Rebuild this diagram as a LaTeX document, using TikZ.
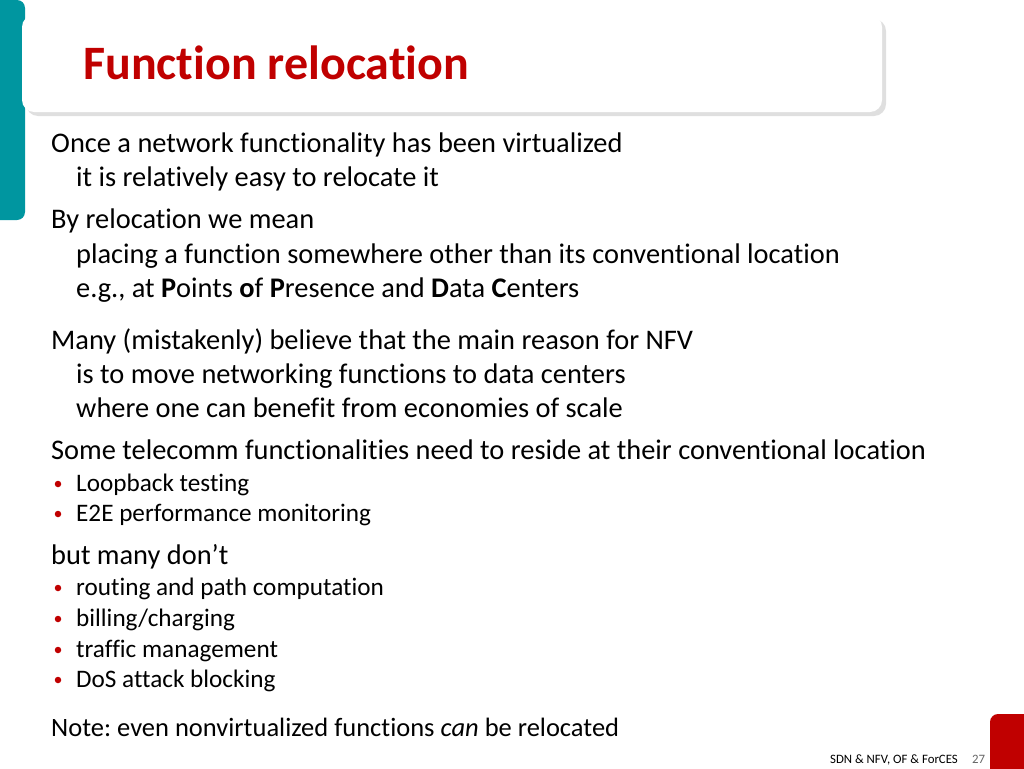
\documentclass[tikz,border=0pt]{standalone}
\usepackage{fontspec}
\setmainfont{Carlito}[Ligatures={NoCommon,TeX}]
\frenchspacing
\usetikzlibrary{shadows}
\definecolor{slidered}{RGB}{192,0,0}
\definecolor{slideteal}{RGB}{0,150,160}
\tikzset{
  body/.style={anchor=base west,inner sep=0pt,font=\fontsize{28.4}{30}\selectfont},
  item/.style={anchor=base west,inner sep=0pt,font=\fontsize{25.2}{27}\selectfont},
  dot/.style={circle,fill=slidered,inner sep=0pt,minimum size=6.5pt}
}
\begin{document}
\begin{tikzpicture}[x=1pt,y=-1pt]
  \useasboundingbox[fill=white] (0,0) rectangle (1024,768);
  % frame
  \fill[slideteal,rounded corners=8pt] (-10,0) rectangle (25,220);
  \fill[white,rounded corners=12pt,drop shadow={opacity=0.25,shadow xshift=4pt,shadow yshift=-4pt}] (22,15) rectangle (882,112);
  \node[anchor=base west,inner sep=0pt,text=slidered,font=\fontsize{48}{50}\bfseries\selectfont] (title) at (83,79) {Function relocation};
  \fill[slidered,rounded corners=8pt] (990,714) rectangle (1034,778);
  % text
  \node[body] (l1) at (51,152) {Once a network functionality has been virtualized};
  \node[body] (l2) at (76,186) {it is relatively easy to relocate it};
  \node[body] (l3) at (51,228) {By relocation we mean};
  \node[body] (l4) at (76,263) {placing a function somewhere other than its conventional location};
  \node[body] (l5) at (76,297) {e.g., at \textbf{P}oints \textbf{o}f \textbf{P}resence and \textbf{D}ata \textbf{C}enters};
  \node[body] (l6) at (51,349) {Many (mistakenly) believe that the main reason for NFV};
  \node[body] (l7) at (76,383) {is to move networking functions to data centers};
  \node[body] (l8) at (76,417) {where one can benefit from economies of scale};
  \node[body] (l9) at (51,459) {Some telecomm functionalities need to reside at their conventional location};
  \foreach \y/\t [count=\i] in {491/{Loopback testing},521/{E2E performance monitoring},595/{routing and path computation},626/{billing/charging},657/{traffic management},687/{DoS attack blocking}}{
    \node[dot] (d\i) at (58,\y-7) {};
    \node[item] (b\i) at (76,\y) {\t};
  }
  \node[body] (l10) at (51,564) {but many don’t};
  \node[body,font=\fontsize{26.5}{28}\selectfont] (l11) at (51,736) {Note: even nonvirtualized functions \textit{can} be relocated};
  % footer
  \node[anchor=base east,inner sep=0pt,font=\fontsize{12.8}{14}\selectfont] (foot) at (958,763) {SDN \& NFV, OF \& ForCES};
  \node[anchor=base west,inner sep=0pt,text=black!60,font=\fontsize{12.8}{14}\selectfont] (num) at (972,763) {27};
\end{tikzpicture}
\end{document}
